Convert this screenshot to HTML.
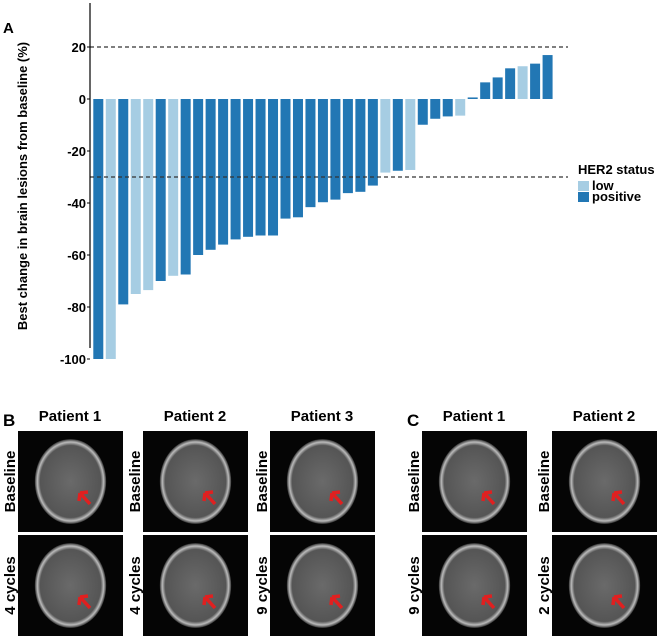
<!DOCTYPE html>
<html><head><meta charset="utf-8"><style>
html,body{margin:0;padding:0;background:#fff;}
svg{display:block;font-family:"Liberation Sans",Arial,sans-serif;}
</style></head><body>
<svg id="fig" width="669" height="636" viewBox="0 0 669 636" xmlns="http://www.w3.org/2000/svg">
<defs>
<radialGradient id="brain" cx="50%" cy="50%" r="50%">
<stop offset="0" stop-color="#6a6a6a"/><stop offset="0.85" stop-color="#555"/><stop offset="0.93" stop-color="#bbb"/><stop offset="1" stop-color="#333"/>
</radialGradient>
</defs>
<text x="3" y="33" font-size="15" font-weight="bold">A</text>
<g id="chart"></g>
<g id="imgs"></g>
</svg>
<script>
const categories = Array.from({length:37},(_,i)=>'P'+(i+1));
const values = [-100,-100,-79,-75,-73.5,-70,-68,-67.5,-60,-58,-56,-54,-53,-52.5,-52.5,-46,-45.5,-41.6,-39.7,-38.7,-36.2,-35.7,-33.3,-28.3,-27.6,-27.3,-9.9,-7.6,-6.7,-6.4,0.6,6.4,8.3,11.8,12.6,13.6,16.9];
const her2 = ['pos','low','pos','low','low','pos','low','pos','pos','pos','pos','pos','pos','pos','pos','pos','pos','pos','pos','pos','pos','pos','pos','low','pos','low','pos','pos','pos','low','pos','pos','pos','pos','low','pos','pos'];
const yTicks = [20,0,-20,-40,-60,-80,-100];
const refLines = [20,-30];
const NS='http://www.w3.org/2000/svg';
const colors={pos:'#2277b4',low:'#a6cde3'};
function y(v){return 99 - v*2.6;}
function x(i){return 93.3 + i*12.48;}
function mk(tag,attrs,parent){const e=document.createElementNS(NS,tag);for(const k in attrs)e.setAttribute(k,attrs[k]);parent.appendChild(e);return e;}
const g=document.getElementById('chart');
values.forEach((v,i)=>{
  const r=mk('rect',{x:x(i),y:Math.min(y(v),y(0)),width:10,height:Math.max(Math.abs(y(v)-y(0)),0.8),fill:colors[her2[i]]},g);
  
  
});
refLines.forEach(v=>{
  const l=mk('line',{x1:90,x2:568,y1:y(v),y2:y(v),stroke:'#333','stroke-width':1.2,'stroke-dasharray':'4,3'},g);
  
  
});
const ax=mk('line',{x1:90,x2:90,y1:3,y2:348,stroke:'#000','stroke-width':1.2},g);


yTicks.forEach(t=>{
  const tk=mk('line',{x1:87,x2:90,y1:y(t),y2:y(t),stroke:'#000'},g);
  
  
  const tx=mk('text',{x:86,y:y(t)+5,'text-anchor':'end','font-size':13,'font-weight':'bold'},g);
  tx.textContent=t;
  
  
});
const yt=mk('text',{x:0,y:0,transform:'translate(27,186) rotate(-90)','text-anchor':'middle','font-size':13,'font-weight':'bold'},g);
yt.textContent='Best change in brain lesions from baseline (%)';


const lg=mk('g',{},g);


const lt=mk('text',{x:578,y:174,'font-size':13,'font-weight':'bold'},lg);lt.textContent='HER2 status';


[['low',colors.low,181],['positive',colors.pos,192]].forEach(([n,c,yy])=>{
  const r=mk('rect',{x:578,y:yy,width:11,height:10,fill:c},lg);
  
  
  const t=mk('text',{x:592,y:yy+9,'font-size':13,'font-weight':'bold'},lg);t.textContent=n;
  
  
});
const im=document.getElementById('imgs');
function label(txt,xx,yy,size,anchor,rot,name){
  const t=mk('text',{x:xx,y:yy,'font-size':size,'font-weight':'bold','text-anchor':anchor||'start'},im);
  if(rot)t.setAttribute('transform','rotate(-90 '+xx+' '+yy+')');
  t.textContent=txt;
  
  
}
function scan(x0,y0,w,h,ax,ay,name){
  const gg=mk('g',{},im);
  
  
  mk('rect',{x:x0,y:y0,width:w,height:h,fill:'#050505'},gg);
  mk('ellipse',{cx:x0+w/2,cy:y0+h/2,rx:w*0.34,ry:h*0.42,fill:'url(#brain)'},gg);
  mk('path',{d:`M${ax} ${ay} l10 11 M${ax} ${ay} l8 -1 M${ax} ${ay} l-1 8`,stroke:'#e02020','stroke-width':3.5,fill:'none'},gg);
}
label('B',3,426,17,'start',false,'panel-b-label');
label('C',407,426,17,'start',false,'panel-c-label');
const cols=[[18,'Patient 1',6],[143,'Patient 2',131],[270,'Patient 3',258],[422,'Patient 1',410],[552,'Patient 2',540]];
const rows=[['Baseline','Baseline','Baseline','Baseline','Baseline'],['4 cycles','4 cycles','9 cycles','9 cycles','2 cycles']];
cols.forEach(([cx,title,lx],ci)=>{
  label(title,cx+52,421,15,'middle',false,'column-title-'+ci);
  [[431,101],[535,101]].forEach(([yy,hh],ri)=>{
    scan(cx,yy,105,hh,cx+62,yy+62,'mri-'+ci+'-'+ri);
    label(rows[ri][ci],lx+9,yy+hh/2,15,'middle',true,'row-label-'+ci+'-'+ri);
  });
});
</script>
</body></html>
